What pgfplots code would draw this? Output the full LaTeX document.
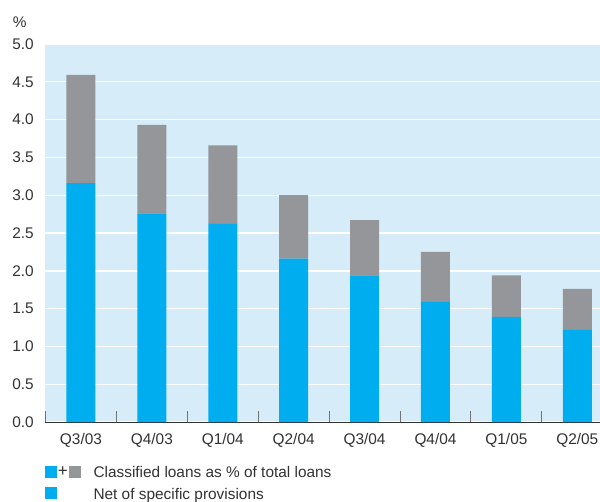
\documentclass[border=0pt]{standalone}
\usepackage{fontspec}
\setmainfont{Liberation Sans}
\usepackage{pgfplots}
\pgfplotsset{compat=1.18}
\definecolor{bgblue}{RGB}{214,236,249}
\definecolor{barblue}{RGB}{0,174,239}
\definecolor{bargray}{RGB}{149,150,154}
\definecolor{txt}{RGB}{50,50,50}
\pgfplotstableread{
x blue gray
0 3.16 1.43
1 2.76 1.17
2 2.62 1.04
3 2.16 0.84
4 1.94 0.73
5 1.59 0.66
6 1.39 0.55
7 1.22 0.54
}\loandata
\begin{document}
\begin{tikzpicture}[font=\fontsize{15.4}{18}\selectfont, text=txt]
\begin{axis}[
  name=ax,
  at={(0pt,0pt)}, anchor=south west,
  scale only axis,
  width=554.5pt, height=378pt,
  xmin=-0.5, xmax=7.32,
  ymin=0, ymax=5,
  ybar stacked,
  bar width=29pt,
  axis background/.style={fill=bgblue},
  separate axis lines,
  axis x line*=bottom,
  axis y line*=left,
  x axis line style={draw=txt, line width=1pt},
  y axis line style={draw=none},
  ytick={0,0.5,...,5},
  ymajorgrids,
  major grid style={draw=white, line width=1.4pt},
  major tick length=0pt,
  xtick={0,...,7},
  xticklabels={Q3/03,Q4/03,Q1/04,Q2/04,Q3/04,Q4/04,Q1/05,Q2/05},
  minor xtick={-0.5,0.5,...,7.5},
  minor tick length=11pt,
  xtick align=inside,
  minor x tick style={draw=gray!90!black, line width=0.9pt},
  /pgf/number format/assume math mode=true,
  yticklabel={\pgfmathprintnumber[fixed,fixed zerofill,precision=1]{\tick}},
  yticklabel style={inner sep=0pt, anchor=east, xshift=-11.5pt, text=txt},
  xticklabel style={inner sep=0pt, anchor=base, yshift=-22.3pt, text=txt},
  clip=false,
]
\addplot[fill=barblue, draw=none] table[x=x, y=blue] {\loandata};
\addplot[fill=bargray, draw=none] table[x=x, y=gray] {\loandata};
\end{axis}
\node[anchor=base west, inner sep=0pt] at (-32.8pt,394.3pt) {\%};
% legend
\fill[barblue] (-0.5pt,-56pt) rectangle (11.5pt,-44pt);
\node[inner sep=0pt, font=\fontsize{17}{18}\selectfont] at (17.3pt,-50pt) {+};
\fill[bargray] (23.2pt,-56pt) rectangle (35.5pt,-44pt);
\node[anchor=base west, inner sep=0pt] at (47.8pt,-55.7pt) {Classified loans as \% of total loans};
\fill[barblue] (-0.5pt,-77.3pt) rectangle (11.5pt,-65.3pt);
\node[anchor=base west, inner sep=0pt] at (47.8pt,-77pt) {Net of specific provisions};
\pgfresetboundingbox
\path[use as bounding box] (-45.5pt,-79pt) rectangle (554.5pt,422pt);
\end{tikzpicture}
\end{document}
